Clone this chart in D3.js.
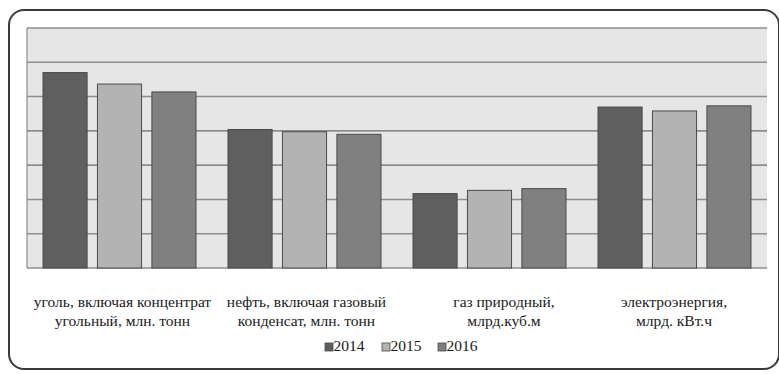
<!DOCTYPE html>
<html><head><meta charset="utf-8">
<script src="https://cdn.jsdelivr.net/npm/d3@7"></script>
<style>html,body{margin:0;padding:0;background:#fff;}svg{display:block;} text{font-family:"Liberation Serif","Times New Roman",serif;}</style>
</head><body>
<script>
const categories = [
  ["уголь, включая концентрат", "угольный, млн. тонн"],
  ["нефть, включая газовый", "конденсат, млн. тонн"],
  ["газ природный,", "млрд.куб.м"],
  ["электроэнергия,", "млрд. кВт.ч"]
];
const years = ["2014", "2015", "2016"];
const values2014 = [114.0, 80.8, 43.4, 93.9];
const values2015 = [107.3, 79.5, 45.3, 91.6];
const values2016 = [102.7, 78.0, 46.3, 94.6];
const yTicks = [0, 20, 40, 60, 80, 100, 120, 140];
const colors = ["#5f5f5f", "#b3b3b3", "#808080"];
const series = [values2014, values2015, values2016];

(function () {
const W = 779, H = 374;
const svg = d3.select("body").append("svg").attr("width", W).attr("height", H);

svg.append("rect").attr("x", 9).attr("y", 10).attr("width", 770).attr("height", 359)
  .attr("rx", 15).attr("ry", 15).attr("fill", "#fff").attr("stroke", "#3a3a3a").attr("stroke-width", 2);

const pLeft = 27, pRight = 767, pTop = 28, pBottom = 268;
const y = d3.scaleLinear().domain([0, 140]).range([pBottom, pTop]);
const x0 = d3.scaleBand().domain(d3.range(categories.length)).range([pLeft, pRight]);
const pad = 16;
const x1 = d3.scaleBand().domain(years).range([pad, x0.bandwidth() - pad]).paddingInner(0.19);

svg.append("rect").attr("x", pLeft).attr("y", pTop).attr("width", pRight - pLeft).attr("height", pBottom - pTop).attr("fill", "#e6e6e6");

svg.append("g").selectAll("line").data(yTicks).join("line")
  .attr("x1", pLeft).attr("x2", pRight)
  .attr("y1", d => y(d)).attr("y2", d => y(d))
  .attr("stroke", "#8e8e8e").attr("stroke-width", 1.6);

svg.append("line").attr("x1", pLeft).attr("x2", pLeft).attr("y1", pTop).attr("y2", pBottom)
  .attr("stroke", "#8e8e8e").attr("stroke-width", 1.2);

const groups = svg.append("g").selectAll("g").data(categories).join("g")
  .attr("transform", (d, i) => `translate(${x0(i)},0)`);
groups.selectAll("rect").data((d, i) => years.map((yr, j) => ({yr, j, v: series[j][i]}))).join("rect")
  .attr("x", d => x1(d.yr)).attr("width", x1.bandwidth())
  .attr("y", d => y(d.v)).attr("height", d => y(0) - y(d.v))
  .attr("fill", d => colors[d.j]).attr("stroke", "#4a4a4a").attr("stroke-width", 1);

const labelShift = [3, 2, 14.5, -0.5];
const lab = svg.append("g").style("font-size", "15.5px").attr("fill", "#1a1a1a").attr("text-anchor", "middle");
categories.forEach((c, i) => {
  c.forEach((line, k) => {
    lab.append("text").attr("x", x0(i) + x0.bandwidth() / 2 + labelShift[i]).attr("y", 307 + k * 19).text(line);
  });
});

const legendX = [325, 382, 438];
const lg = svg.append("g").style("font-size", "15.5px").attr("fill", "#1a1a1a");
years.forEach((yr, j) => {
  lg.append("rect").attr("x", legendX[j]).attr("y", 343).attr("width", 8).attr("height", 8)
    .attr("fill", colors[j]).attr("stroke", "#4a4a4a").attr("stroke-width", 0.8);
  lg.append("text").attr("x", legendX[j] + 8.5).attr("y", 351).text(yr);
});
})();
</script>
</body></html>
